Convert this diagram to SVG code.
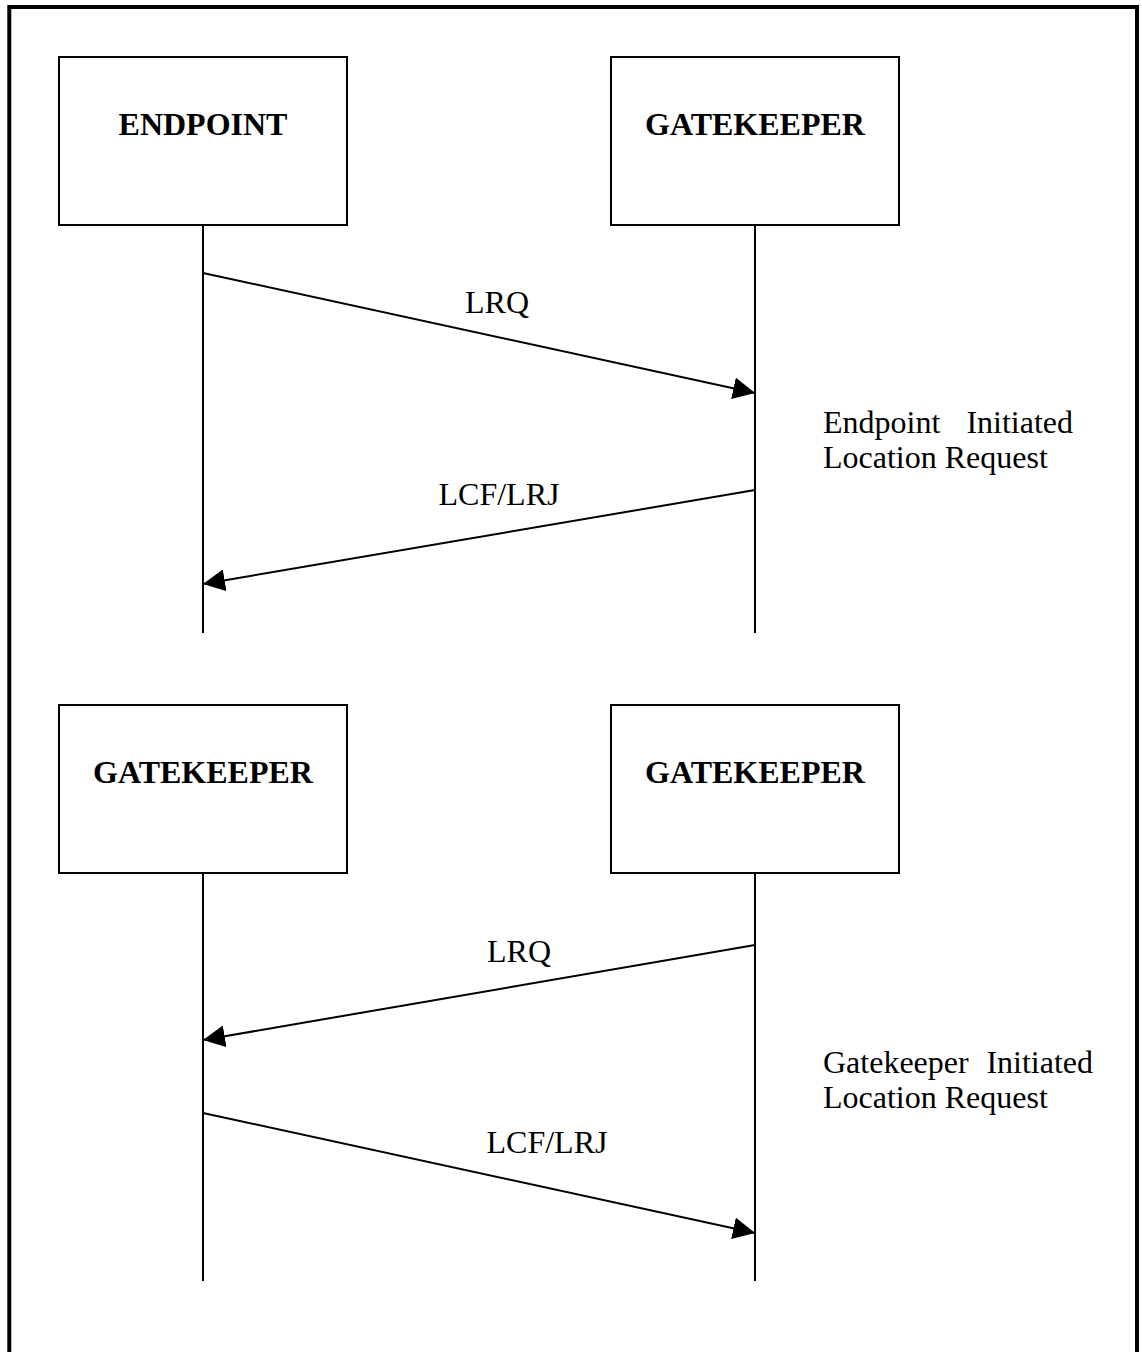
<svg xmlns="http://www.w3.org/2000/svg" width="1142" height="1352" viewBox="0 0 1142 1352">
  <style>
    .frame { fill: none; stroke: #000; stroke-width: 4; }
    .box { fill: #fff; stroke: #000; stroke-width: 2; }
    .life { stroke: #000; stroke-width: 2; }
    .msg { stroke: #000; stroke-width: 2; fill: none; marker-end: url(#head); }
    .title { font-family: "Liberation Serif", "Times New Roman", serif; font-weight: bold; font-size: 32px; text-anchor: middle; fill: #000; }
    .label { font-family: "Liberation Serif", "Times New Roman", serif; font-size: 32px; text-anchor: middle; fill: #000; }
    .note { font-family: "Liberation Serif", "Times New Roman", serif; font-size: 32px; fill: #000; }
  </style>
  <defs>
    <marker id="head" markerUnits="userSpaceOnUse" markerWidth="22" markerHeight="22" viewBox="0 0 20 20" refX="20" refY="10" orient="auto">
      <path d="M0,0 L20,10 L0,20 Z" fill="#000"/>
    </marker>
  </defs>

  <rect width="1142" height="1352" fill="#fff"/>
  <!-- outer frame, open at the bottom -->
  <path class="frame" d="M9.3,1360 V7 H1137 V1360"/>

  <!-- lifelines and messages -->
  <g id="connectors">
    <line class="life" x1="203" y1="225" x2="203" y2="633"/>
    <line class="life" x1="755" y1="225" x2="755" y2="633"/>
    <line class="life" x1="203" y1="873" x2="203" y2="1281"/>
    <line class="life" x1="755" y1="873" x2="755" y2="1281"/>

    <line class="msg" x1="203" y1="273" x2="755" y2="393"/>
    <line class="msg" x1="755" y1="490" x2="203" y2="584"/>
    <line class="msg" x1="755" y1="945" x2="203" y2="1040"/>
    <line class="msg" x1="203" y1="1113" x2="755" y2="1233"/>

    <text class="label" x="497" y="313">LRQ</text>
    <text class="label" x="499" y="505">LCF/LRJ</text>
    <text class="label" x="519" y="962">LRQ</text>
    <text class="label" x="547" y="1153">LCF/LRJ</text>
  </g>

  <g id="endpoint">
    <rect class="box" x="59" y="57" width="288" height="168"/>
    <text class="title" x="203" y="135">ENDPOINT</text>
  </g>
  <g id="gatekeeper-1">
    <rect class="box" x="611" y="57" width="288" height="168"/>
    <text class="title" x="755" y="135">GATEKEEPER</text>
  </g>
  <g id="gatekeeper-2">
    <rect class="box" x="59" y="705" width="288" height="168"/>
    <text class="title" x="203" y="783">GATEKEEPER</text>
  </g>
  <g id="gatekeeper-3">
    <rect class="box" x="611" y="705" width="288" height="168"/>
    <text class="title" x="755" y="783">GATEKEEPER</text>
  </g>

  <g id="note-endpoint">
    <text class="note" x="823" y="433">Endpoint</text>
    <text class="note" x="1073" y="433" text-anchor="end">Initiated</text>
    <text class="note" x="823" y="468">Location Request</text>
  </g>
  <g id="note-gatekeeper">
    <text class="note" x="823" y="1073">Gatekeeper</text>
    <text class="note" x="1093" y="1073" text-anchor="end">Initiated</text>
    <text class="note" x="823" y="1108">Location Request</text>
  </g>
</svg>
